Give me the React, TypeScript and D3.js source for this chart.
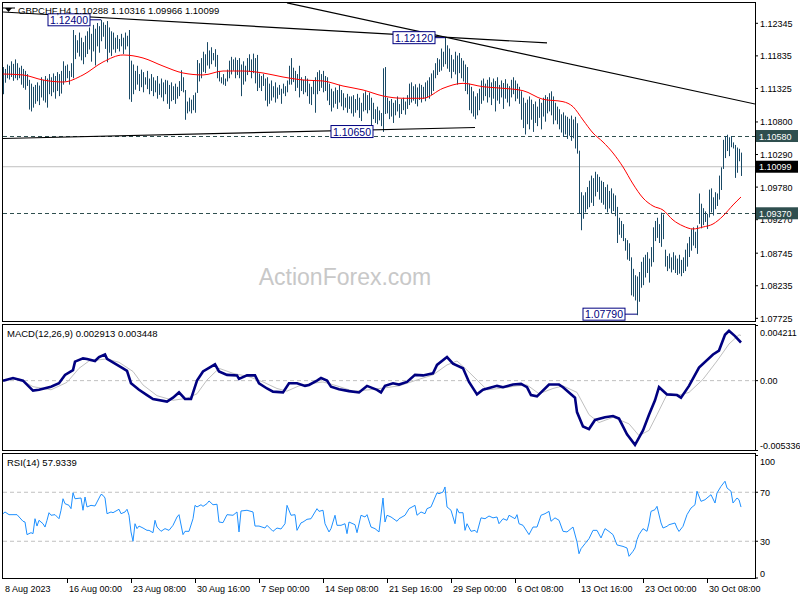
import * as d3 from "d3";

// H4 bars, high / low per bar (8 Aug - 2 Nov 2023)
const highs = [
  1.1166, 1.1163, 1.117, 1.1168, 1.1175, 1.1171, 1.1178, 1.1172, 1.1165, 1.1168, 1.1163, 1.116, 1.1155,
  1.1146, 1.114, 1.1135, 1.1138, 1.1142, 1.1137,
  1.115, 1.1146, 1.1152, 1.1148, 1.1155, 1.115, 1.1156, 1.1152, 1.1158, 1.1155,
  1.116, 1.1175, 1.1168, 1.117, 1.116, 1.1172,
  1.1224, 1.1216, 1.1208, 1.122, 1.1212, 1.1205, 1.1215, 1.1222, 1.1228, 1.1218, 1.1232, 1.1226, 1.1235, 1.123,
  1.124, 1.1236, 1.1232, 1.1238, 1.1228,
  1.1222, 1.122, 1.1212, 1.1216, 1.121, 1.1218, 1.1212, 1.122, 1.1215, 1.1224,
  1.1176, 1.117, 1.116, 1.1168, 1.1155, 1.1162, 1.1158, 1.115, 1.116, 1.1148, 1.1155, 1.115, 1.1145, 1.1152, 1.114, 1.1148, 1.1142, 1.1146,
  1.1145, 1.1138, 1.1142, 1.1136, 1.114, 1.1135, 1.1144, 1.1161, 1.115, 1.113, 1.1112, 1.1118, 1.1115, 1.1122, 1.1126,
  1.1177, 1.1172, 1.118, 1.119, 1.1186, 1.1205, 1.1192, 1.1197, 1.1188, 1.1194, 1.1185,
  1.116, 1.115, 1.1155, 1.1148, 1.1162,
  1.1176, 1.1182, 1.1178, 1.1181, 1.1177, 1.118, 1.117, 1.1175, 1.1168, 1.118, 1.1186, 1.1178, 1.1187, 1.118, 1.1185,
  1.1156, 1.1152, 1.1155, 1.1148, 1.115, 1.114, 1.1145, 1.1136, 1.1142, 1.1134, 1.1138, 1.1132, 1.114, 1.1136, 1.1145,
  1.1168, 1.118, 1.1165, 1.116, 1.1155, 1.1168,
  1.115, 1.1146, 1.1152, 1.1148, 1.114, 1.1135, 1.1145,
  1.115, 1.1158, 1.1161, 1.1155, 1.116, 1.1152, 1.115,
  1.114, 1.1132, 1.1128, 1.1134, 1.113, 1.1138, 1.113, 1.1125, 1.1118, 1.1124, 1.112,
  1.112, 1.1122, 1.1116, 1.1124, 1.1118, 1.111, 1.1125, 1.1128, 1.1122, 1.1126,
  1.1118, 1.111, 1.11, 1.1104, 1.1098, 1.1094,
  1.1164,
  1.1166, 1.1118, 1.1113, 1.1116, 1.111, 1.1114, 1.112, 1.1108, 1.1116, 1.1118, 1.1112, 1.1122,
  1.114, 1.1142, 1.1136, 1.1139, 1.1134, 1.114, 1.1138, 1.1135, 1.1142, 1.1145, 1.115, 1.1156, 1.1161,
  1.1172, 1.118, 1.1178, 1.1195, 1.119, 1.1212, 1.12, 1.1195,
  1.1185, 1.1178, 1.119, 1.1184, 1.1188, 1.118, 1.1176, 1.117, 1.1166,
  1.114, 1.1135, 1.1128, 1.112, 1.1125, 1.1132,
  1.1145, 1.1148, 1.114, 1.1146, 1.115, 1.1142, 1.1148, 1.1144, 1.115, 1.1138, 1.1145, 1.1141, 1.1147, 1.114, 1.1136, 1.1146, 1.115, 1.1145, 1.114, 1.1135,
  1.1128, 1.1118, 1.111, 1.1115, 1.112,
  1.1115, 1.1108, 1.1112, 1.1104, 1.1116, 1.111, 1.1118, 1.1122, 1.1119, 1.1125, 1.1128, 1.112,
  1.111, 1.1104, 1.11, 1.1092, 1.1095, 1.109, 1.1088, 1.1085, 1.109, 1.1084, 1.1088, 1.1078,
  1.1035, 1.097,
  1.0965, 1.097, 1.0978, 1.0988, 1.0996, 1.0992,
  1.1002, 1.0998, 1.0994, 1.0988,
  1.0986, 1.0978, 1.0982, 1.0972, 1.0976, 1.0968, 1.0965,
  1.0947, 1.093, 1.0925, 1.092, 1.0898, 1.0895, 1.089,
  1.0868, 1.085, 1.084, 1.0838, 1.0845,
  1.0861, 1.0868, 1.0872, 1.0876, 1.0866, 1.0884, 1.0915,
  1.0925, 1.093, 1.092, 1.0938, 1.0935,
  1.088, 1.087, 1.0874, 1.0868, 1.0876, 1.0871, 1.0866, 1.0872, 1.0864, 1.0868, 1.088, 1.089,
  1.09, 1.0912, 1.0915, 1.0908, 1.0918,
  1.0968, 1.0952, 1.0945, 1.094, 1.0936,
  1.0974, 1.0976, 1.0962, 1.097, 1.0968, 1.0996,
  1.1009, 1.1052, 1.1058,
  1.106, 1.1056, 1.1058, 1.1048, 1.1044, 1.104, 1.1038, 1.1032,
];

const lows = [
  1.1125, 1.1143, 1.115, 1.1148, 1.1152, 1.1146, 1.115, 1.1147, 1.115, 1.114, 1.1135, 1.1132, 1.1138,
  1.1101, 1.1098, 1.1104, 1.111, 1.1114, 1.1108,
  1.112, 1.1115, 1.1112, 1.1104, 1.1125, 1.1122, 1.1128, 1.1118, 1.113, 1.1122,
  1.1126, 1.114, 1.1145, 1.115, 1.114, 1.1152,
  1.115, 1.118, 1.119, 1.1184, 1.1178, 1.1172, 1.1183, 1.1188, 1.1195, 1.1176, 1.1192, 1.117, 1.12, 1.119,
  1.1208, 1.1215, 1.1196, 1.1175, 1.119,
  1.1185, 1.1195, 1.119, 1.1196, 1.1192, 1.12, 1.1188, 1.1195, 1.12, 1.1117,
  1.1113, 1.1125, 1.1132, 1.114, 1.113, 1.1136, 1.1128, 1.114, 1.1133, 1.1125, 1.113, 1.1122, 1.1128, 1.1118, 1.1124, 1.112, 1.1114, 1.1125,
  1.111, 1.1102, 1.1114, 1.1116, 1.111, 1.1118, 1.1122, 1.113, 1.1128, 1.1085, 1.1095, 1.1098, 1.1095, 1.11, 1.1096,
  1.1127, 1.1145, 1.115, 1.116, 1.1158, 1.117, 1.1165, 1.1172, 1.1178, 1.1168, 1.115,
  1.1145, 1.1142, 1.114, 1.1138, 1.1145,
  1.115, 1.1156, 1.1162, 1.115, 1.1155, 1.115, 1.1122, 1.114, 1.1145, 1.1155, 1.116, 1.115, 1.1158, 1.1142, 1.113,
  1.1135, 1.113, 1.1138, 1.1115, 1.1106, 1.111, 1.1115, 1.112, 1.1112, 1.1118, 1.1124, 1.111, 1.1126, 1.1122, 1.1128,
  1.114, 1.114, 1.1144, 1.113, 1.1135, 1.112,
  1.113, 1.1125, 1.1128, 1.1122, 1.111, 1.1108, 1.1125,
  1.1096, 1.1125, 1.113, 1.1135, 1.1128, 1.113, 1.1115,
  1.1108, 1.1098, 1.1104, 1.111, 1.1102, 1.1112, 1.1106, 1.11, 1.1104, 1.1096, 1.1102,
  1.1095, 1.109, 1.1096, 1.11, 1.1088, 1.1083, 1.1098, 1.11, 1.1095, 1.11,
  1.1065, 1.1086, 1.108, 1.1078, 1.1084, 1.1075,
  1.1066,
  1.1094, 1.1095, 1.1086, 1.109, 1.108, 1.1092, 1.1098, 1.1088, 1.1094, 1.11, 1.1093, 1.1102,
  1.1108, 1.1112, 1.1115, 1.111, 1.1106, 1.1116, 1.1112, 1.1118, 1.1114, 1.112, 1.1118, 1.1124, 1.113,
  1.115, 1.1155, 1.116, 1.1162, 1.1168, 1.1172, 1.1165, 1.116,
  1.115, 1.116, 1.1156, 1.114, 1.1158, 1.115, 1.1145, 1.113, 1.1125,
  1.11, 1.1095, 1.109, 1.1086, 1.1092, 1.11,
  1.111, 1.1115, 1.1122, 1.1112, 1.112, 1.1108, 1.1118, 1.1098, 1.1115, 1.111, 1.112, 1.1102, 1.1118, 1.1112, 1.1106, 1.112, 1.1125, 1.1114, 1.1118, 1.111,
  1.1085, 1.1072, 1.1062, 1.1078, 1.107,
  1.1085, 1.1066, 1.108, 1.1075, 1.1088, 1.107, 1.109, 1.1082, 1.1095, 1.1098, 1.1092, 1.1078,
  1.1084, 1.1078, 1.107, 1.1065, 1.1058, 1.1062, 1.1055, 1.106, 1.1052, 1.1056, 1.104, 1.1032,
  1.0938, 1.0912,
  1.093, 1.094, 1.0945, 1.0948, 1.0955, 1.095,
  1.0965, 1.0972, 1.096, 1.0955,
  1.0952, 1.0945, 1.094, 1.0946, 1.0938, 1.0942, 1.0934,
  1.0892, 1.0905, 1.09, 1.0895, 1.088, 1.0866, 1.0864,
  1.081, 1.0808, 1.0802, 1.0779, 1.08,
  1.0822, 1.0826, 1.0838, 1.0845, 1.083, 1.0855, 1.0862,
  1.0895, 1.09, 1.0892, 1.0886, 1.0898,
  1.0855, 1.0848, 1.0852, 1.0846, 1.085, 1.0845, 1.0842, 1.0844, 1.084, 1.0845, 1.0848, 1.0855,
  1.087, 1.088, 1.0888, 1.0884, 1.0875,
  1.0922, 1.0915, 1.092, 1.0925, 1.0914,
  1.0932, 1.094, 1.0935, 1.0945, 1.095, 1.096,
  1.0975, 1.1008, 1.1025,
  1.1036, 1.1028, 1.1042, 1.104, 1.0994, 1.1002, 1.102, 1.0997,
];

// moving average, [bar index, value]
const maPoints: [number, number][] = [
  [0, 1.11551], [10, 1.11536], [20, 1.11457], [30, 1.11426], [40, 1.11536], [50, 1.11739],
  [60, 1.11849], [70, 1.11802], [80, 1.11676], [90, 1.11567], [100, 1.11536], [110, 1.11598],
  [120, 1.11598], [130, 1.11567], [140, 1.11504], [150, 1.11457], [160, 1.11442], [170, 1.11363],
  [180, 1.11301], [190, 1.11207], [200, 1.11171], [210, 1.11171], [220, 1.11327], [230, 1.11405],
  [240, 1.11352], [250, 1.11327], [260, 1.1129], [270, 1.11155], [280, 1.11118], [285, 1.11039],
  [290, 1.10831], [295, 1.10627], [300, 1.10486], [305, 1.10314], [310, 1.10095], [315, 1.09829],
  [320, 1.09609], [325, 1.09484], [330, 1.09421], [335, 1.09265], [340, 1.09171], [345, 1.09124],
  [350, 1.09155], [355, 1.09202], [360, 1.09327], [365, 1.095], [369, 1.09625],
];

const macdMain: [number, number][] = [
  [0, 0], [5, 0.0002], [10, 0], [15, -0.00076], [18, -0.0007], [24, -0.00046], [28, -0.0002],
  [31, 0.00044], [35, 0.0008], [36, 0.00145], [40, 0.0017], [42, 0.00165], [46, 0.0015], [48, 0.0018],
  [51, 0.002], [52, 0.00166], [56, 0.0013], [60, 0.00094], [62, 0.00074], [64, -0.0002], [68, -0.0007],
  [72, -0.0011], [75, -0.0014], [82, -0.0016], [85, -0.0013], [88, -0.0009], [91, -0.0014], [94, -0.0014],
  [97, 0], [100, 0.0007], [106, 0.00125], [108, 0.0007], [112, 0.00044], [117, 0.0004], [118, 0.00013],
  [122, 0.0004], [126, 0.0004], [128, -0.0002], [132, -0.0006], [135, -0.00084], [140, -0.0009],
  [143, -0.0002], [147, -0.0002], [151, -0.0004], [153, -0.00033], [157, 0], [159, 0.0002], [162, 0],
  [164, -0.00046], [168, -0.00066], [173, -0.0008], [178, -0.0009], [182, -0.0004], [187, -0.0007],
  [189, -0.0009], [191, -0.0004], [195, -0.0002], [198, -0.0003], [202, -0.0001], [206, 0.00044],
  [210, 0.0004], [215, 0.00056], [217, 0.0012], [222, 0.0018], [225, 0.0013], [230, 0.00094],
  [233, -0.0001], [237, -0.00105], [240, -0.0007], [247, -0.0004], [250, -0.0005], [255, -0.0003],
  [259, -0.00025], [262, -0.0005], [264, -0.0011], [267, -0.0012], [273, -0.0003], [278, -0.0003],
  [280, -0.0005], [286, -0.0013], [287, -0.0024], [290, -0.0035], [293, -0.0037], [296, -0.003],
  [301, -0.0028], [305, -0.0027], [308, -0.0029], [312, -0.0041], [316, -0.0049], [320, -0.0038],
  [323, -0.0026], [326, -0.0015], [328, -0.0005], [332, -0.00105], [337, -0.0011], [339, -0.0013],
  [343, -0.0004], [348, 0.001], [355, 0.002], [358, 0.0023], [361, 0.0035], [363, 0.0038],
  [366, 0.0034], [369, 0.002913],
];

const macdSignal: [number, number][] = [
  [0, 0.00005], [8, 0.00013], [15, -0.00046], [24, -0.0007], [32, -0.00013], [38, 0.00094],
  [43, 0.0015], [52, 0.00166], [58, 0.0014], [65, 0.0007], [70, -0.00033], [77, -0.00115],
  [85, -0.0015], [92, -0.00135], [97, -0.001], [102, 0.00005], [108, 0.00094], [115, 0.00056],
  [123, 0.0003], [130, -0.0001], [137, -0.0006], [142, -0.0008], [148, -0.0004], [155, -0.0002],
  [160, -0.0001], [167, -0.0004], [175, -0.0008], [183, -0.0007], [192, -0.00053], [198, -0.0004],
  [207, 0.00005], [215, 0.00044], [222, 0.0012], [227, 0.0015], [232, 0.0008], [237, 0.00005],
  [242, -0.0007], [248, -0.0006], [257, -0.0004], [262, -0.00033], [268, -0.001], [275, -0.0006],
  [280, -0.0004], [287, -0.0009], [293, -0.0026], [298, -0.0032], [305, -0.0028], [313, -0.0033],
  [318, -0.0042], [323, -0.0038], [327, -0.0026], [332, -0.00105], [338, -0.0011], [343, -0.0009],
  [350, 0.0001], [357, 0.0015], [363, 0.0028], [368, 0.0035], [369, 0.003448],
];

const rsiPoints: [number, number][] = [
  [0, 52.5], [1, 53.9], [3, 51.7], [7, 51.7], [10, 46.3], [11, 45.7], [12, 35.4], [14, 37], [15, 36.2],
  [16, 48.4], [17, 42.4], [18, 47.1], [20, 44.3], [21, 41.6], [22, 47.1], [23, 53.3], [24, 51.2],
  [26, 51.7], [28, 48.4], [29, 55.3], [30, 64.7], [31, 60.7], [33, 59.3], [34, 56.6], [35, 69.6],
  [36, 64.7], [39, 65.3], [40, 55.3], [41, 66.1], [42, 58], [44, 59.3], [46, 58.8], [47, 62],
  [49, 68.3], [50, 67.5], [51, 65.3], [52, 52.5], [54, 53.9], [55, 53.3], [58, 56.1], [59, 52.5],
  [61, 53.9], [62, 56.1], [63, 51.2], [64, 37.6], [65, 30], [66, 44.3], [67, 40.3], [68, 42.4],
  [70, 40.8], [72, 38.9], [73, 38.9], [75, 37], [76, 47.1], [77, 41.6], [79, 38.1], [81, 40.3],
  [83, 38.9], [85, 43], [87, 49.8], [88, 51.7], [90, 35.4], [91, 38.1], [93, 38.1], [95, 48.4],
  [96, 59.3], [97, 58], [99, 59.8], [100, 58.5], [102, 60.7], [103, 62.9], [105, 59.8], [107, 60.2],
  [108, 45.7], [110, 45.2], [112, 51.7], [115, 51.2], [117, 53.9], [118, 37.6], [119, 54.7],
  [122, 55.3], [125, 53.9], [126, 42.4], [128, 42.4], [131, 40.8], [132, 43], [135, 38.1],
  [137, 40.8], [139, 40], [141, 44.3], [142, 59.3], [144, 51.2], [146, 51.7], [147, 38.9],
  [149, 45], [150, 45.7], [152, 47.9], [154, 48.4], [157, 56.6], [158, 54.4], [160, 55.3],
  [161, 44.3], [163, 37.6], [164, 40.3], [166, 51.2], [167, 43], [169, 43], [171, 44.3], [172, 36.2],
  [173, 45.7], [176, 43.5], [177, 37], [179, 51.2], [181, 49.8], [182, 51.7], [184, 41.6],
  [186, 40.3], [188, 37.6], [190, 65.3], [191, 45.7], [192, 51.2], [194, 49.8], [197, 46.3],
  [198, 48.4], [201, 51.2], [203, 56.6], [206, 59.3], [207, 51.2], [209, 53.9], [211, 52.5],
  [212, 56.6], [214, 58], [217, 69.6], [218, 68.8], [220, 70.2], [221, 74.3], [222, 58], [224, 55.3],
  [226, 44.3], [227, 56.6], [228, 53.3], [230, 53.3], [231, 38.9], [232, 44.3], [234, 38.1],
  [236, 38.9], [237, 37], [239, 49.1], [241, 48.4], [243, 50.6], [245, 49.1], [247, 49.8],
  [248, 44.3], [250, 48.4], [252, 47.1], [253, 51.2], [256, 48.4], [257, 51.7], [258, 44.3],
  [260, 43], [263, 35.4], [265, 41.6], [267, 41.6], [269, 51.2], [271, 52.5], [273, 54.4],
  [274, 46.3], [276, 49.1], [278, 47.1], [280, 38.1], [282, 37.6], [285, 41.6], [287, 29.4],
  [288, 19.8], [289, 23.9], [291, 28], [293, 32.1], [295, 38.9], [297, 38.9], [299, 32.7],
  [301, 40.3], [303, 38], [305, 35.4], [307, 27], [310, 25.8], [312, 24.5], [313, 17.7], [315, 21.8],
  [316, 24.5], [317, 31.3], [318, 35.4], [320, 40.3], [322, 38.1], [323, 44.9], [324, 54.4],
  [326, 55.8], [327, 58.5], [329, 45], [330, 40.8], [332, 42.2], [333, 43.5], [336, 44.9],
  [337, 40.8], [338, 38], [340, 42.2], [342, 51.7], [344, 57.1], [346, 59.8], [347, 70.8],
  [349, 62.6], [351, 63.9], [352, 65.3], [354, 68], [356, 61.2], [357, 69.4], [359, 74.8], [361, 79],
  [362, 73.5], [364, 70.8], [365, 61.2], [367, 65.3], [368, 63.9], [369, 57.93],
];

const priceTicks = [1.12345, 1.11835, 1.11325, 1.108, 1.1029, 1.0978, 1.0927, 1.08745, 1.08235, 1.07725];
const timeLabels = [
  "8 Aug 2023", "16 Aug 00:00", "23 Aug 08:00", "30 Aug 16:00", "7 Sep 00:00", "14 Sep 08:00",
  "21 Sep 16:00", "29 Sep 00:00", "6 Oct 08:00", "13 Oct 16:00", "23 Oct 00:00", "30 Oct 08:00",
];
const barsPerLabel = 32;
const levels = [1.1058, 1.0937];
const lastClose = 1.10099;
const macdTicks = [0.004211, 0, -0.005336];
const macdTickText = ["0.004211", "0.00", "-0.005336"];
const rsiLevels = [70, 30];
const rsiTicks = [100, 70, 30, 0];

// swing labels: bar, price, text, gap to bar
const swings: [number, number, string, number][] = [
  [49, 1.124, "1.12400", 11],
  [221, 1.1212, "1.12120", 10],
  [184, 1.1065, "1.10650", -2],
  [317, 1.0779, "1.07790", 12],
];

// trend lines: [bar, price] end points
const trendLines: [number, number][][] = [
  [[0, 1.12522], [272, 1.12037]],
  [[142, 1.12665], [376, 1.11081]],
  [[0, 1.10541], [236, 1.10713]],
];

const FONT = "'Liberation Sans', Arial, sans-serif";
const L = 3;
const R = 755;
const MAIN = { top: 3, bottom: 321 };
const MACD = { top: 325, bottom: 450 };
const RSI = { top: 454, bottom: 578 };

export default function App() {
  const x = d3.scaleLinear().domain([0, 376]).range([L, R]);
  const y = d3.scaleLinear().domain([1.07683, 1.12663]).range([MAIN.bottom, MAIN.top]);
  const ym = d3.scaleLinear().domain([-0.005336, 0.004211]).range([450.5, 325.5]);
  const yr = d3.scaleLinear().domain([0, 100]).range([578, 455.5]);

  const maLine = d3.line<[number, number]>().x((d) => x(d[0])).y((d) => y(d[1])).curve(d3.curveMonotoneX);
  const macdLine = d3.line<[number, number]>().x((d) => x(d[0])).y((d) => ym(d[1]));
  const rsiLine = d3.line<[number, number]>().x((d) => x(d[0])).y((d) => yr(d[1]));

  const clampLabel = (v: number, top: number, bottom: number) => Math.max(top + 7, Math.min(bottom - 5, v));

  return (
    <svg width={800} height={600} style={{ position: "absolute", left: 0, top: 0, background: "#fff" }} fontFamily={FONT}>
      <defs>
        <clipPath id="mainClip">
          <rect x={L} y={MAIN.top} width={R - L} height={MAIN.bottom - MAIN.top} />
        </clipPath>
      </defs>
      <rect width={800} height={600} fill="#fff" />

      {/* watermark */}
      <text x={345} y={285} textAnchor="middle" fontSize={23} fill="#c8c8c8">ActionForex.com</text>

      {/* main panel */}
      <g clipPath="url(#mainClip)">
        <line x1={L} x2={R} y1={y(lastClose)} y2={y(lastClose)} stroke="#c0c0c0" />
        {levels.map((v) => (
          <line key={v} x1={L} x2={R} y1={Math.round(y(v)) + 0.5} y2={Math.round(y(v)) + 0.5} stroke="#2f4f4f" strokeDasharray="4,3" />
        ))}
        {highs.map((h, i) => (
          <line key={i} x1={x(i) + 0.5} x2={x(i) + 0.5} y1={y(h)} y2={y(lows[i]) + 1} stroke="#1a4a66" strokeWidth={1} />
        ))}
        <path d={maLine(maPoints) ?? ""} fill="none" stroke="#ff0000" strokeWidth={1} />
        {trendLines.map((t, k) => (
          <line key={k} x1={x(t[0][0])} y1={y(t[0][1])} x2={x(t[1][0])} y2={y(t[1][1])} stroke="#000" strokeWidth={1.2} />
        ))}
        {swings.map(([i, p, txt, gap]) => {
          const bx = x(i) - gap;
          const by = y(p);
          return (
            <g key={txt}>
              <line x1={bx} x2={x(i)} y1={by} y2={by} stroke="#000080" />
              <rect x={bx - 42} y={by - 6} width={42} height={12} fill="#fff" stroke="#000080" />
              <text x={bx - 21} y={by + 4} textAnchor="middle" fontSize={10.5} fill="#000080">{txt}</text>
            </g>
          );
        })}
      </g>

      {/* header */}
      <path d="M5,8 L12,8 L8.5,12 Z" fill="#000" />
      <line x1={3} x2={15} y1={8} y2={8} stroke="#000" />
      <text x={18} y={14} fontSize={9.5} fill="#000">GBPCHF,H4  1.10288 1.10316 1.09966 1.10099</text>

      {/* price axis */}
      {priceTicks.map((v) => (
        <g key={v}>
          <line x1={R} x2={R + 3} y1={y(v)} y2={y(v)} stroke="#000" />
          <text x={760} y={y(v) + 3.5} fontSize={9} fill="#000">{v.toFixed(5)}</text>
        </g>
      ))}
      {levels.map((v) => (
        <g key={"lv" + v}>
          <rect x={756} y={y(v) - 6} width={42} height={12} fill="#2f4f4f" />
          <text x={759} y={y(v) + 3.5} fontSize={9} fill="#fff">{v.toFixed(5)}</text>
        </g>
      ))}
      <rect x={756} y={y(lastClose) - 6} width={42} height={12} fill="#000" />
      <text x={759} y={y(lastClose) + 3.5} fontSize={9} fill="#fff">{lastClose.toFixed(5)}</text>

      {/* MACD panel */}
      <line x1={L} x2={R} y1={ym(0)} y2={ym(0)} stroke="#c0c0c0" strokeDasharray="4,3" />
      <path d={macdLine(macdSignal) ?? ""} fill="none" stroke="#c0c0c0" strokeWidth={1} />
      <path d={macdLine(macdMain) ?? ""} fill="none" stroke="#000080" strokeWidth={2.6} />
      <text x={7} y={337} fontSize={9.5} fill="#000">MACD(12,26,9) 0.002913 0.003448</text>
      {macdTicks.map((v, k) => (
        <g key={"m" + k}>
          <line x1={R} x2={R + 3} y1={ym(v)} y2={ym(v)} stroke="#000" />
          <text x={760} y={clampLabel(ym(v), MACD.top, MACD.bottom) + 3.5} fontSize={9} fill="#000">{macdTickText[k]}</text>
        </g>
      ))}

      {/* RSI panel */}
      {rsiLevels.map((v) => (
        <line key={"rl" + v} x1={L} x2={R} y1={yr(v)} y2={yr(v)} stroke="#c0c0c0" strokeDasharray="4,3" />
      ))}
      <path d={rsiLine(rsiPoints) ?? ""} fill="none" stroke="#1e90ff" strokeWidth={1} />
      <text x={7} y={466} fontSize={9.5} fill="#000">RSI(14) 57.9339</text>
      {rsiTicks.map((v) => (
        <g key={"rt" + v}>
          <line x1={R} x2={R + 3} y1={yr(v)} y2={yr(v)} stroke="#000" />
          <text x={760} y={clampLabel(yr(v), RSI.top, RSI.bottom) + 3.5} fontSize={9} fill="#000">{v}</text>
        </g>
      ))}

      {/* panel frames */}
      {[MAIN, MACD, RSI].map((p, k) => (
        <rect key={k} x={L - 0.5} y={p.top - 0.5} width={R - L + 1} height={p.bottom - p.top + 1} fill="none" stroke="#000" />
      ))}

      {/* time axis */}
      {timeLabels.map((t, k) => {
        const tx = x(k * barsPerLabel);
        return (
          <g key={t}>
            {k > 0 && <line x1={tx + 0.5} x2={tx + 0.5} y1={RSI.bottom} y2={RSI.bottom + 5} stroke="#000" />}
            <text x={tx + 2} y={592} fontSize={9} fill="#000">{t}</text>
          </g>
        );
      })}
    </svg>
  );
}
